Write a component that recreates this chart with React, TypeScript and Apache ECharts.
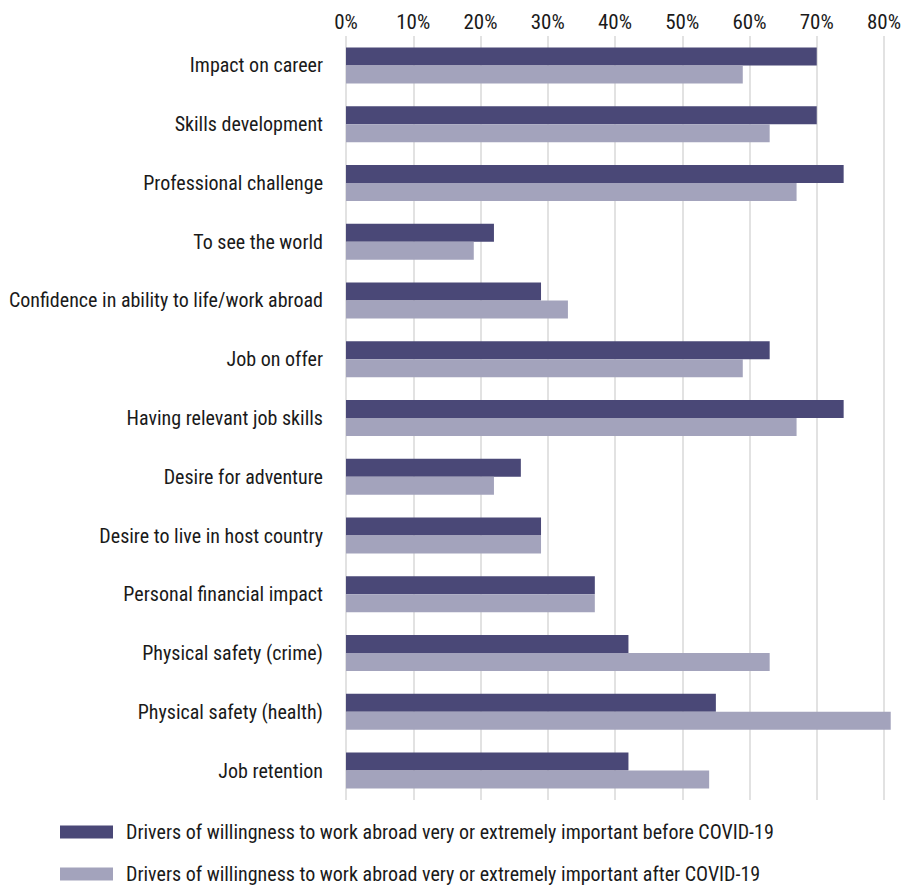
import React, { useEffect, useRef } from "react";
import * as echarts from "echarts";

const categories = [
  "Impact on career",
  "Skills development",
  "Professional challenge",
  "To see the world",
  "Confidence in ability to life/work abroad",
  "Job on offer",
  "Having relevant job skills",
  "Desire for adventure",
  "Desire to live in host country",
  "Personal financial impact",
  "Physical safety (crime)",
  "Physical safety (health)",
  "Job retention",
];

const beforeValues = [70, 70, 74, 22, 29, 63, 74, 26, 29, 37, 42, 55, 42];
const afterValues = [59, 63, 67, 19, 33, 59, 67, 22, 29, 37, 63, 81, 54];

const seriesNames = [
  "Drivers of willingness to work abroad very or extremely important before COVID-19",
  "Drivers of willingness to work abroad very or extremely important after COVID-19",
];

const FONT = '"Roboto Condensed", "Arial Narrow", "Liberation Sans Narrow", sans-serif';
const TEXT_COLOR = "#1a1a1a";

export default function App() {
  const ref = useRef<HTMLDivElement>(null);
  useEffect(() => {
    if (!ref.current) return;
    const chart = echarts.init(ref.current, null, { renderer: "svg" });
    const legendBase = {
      orient: "vertical",
      left: 55,
      itemWidth: 53,
      itemHeight: 13,
      icon: "rect",
      textStyle: { color: TEXT_COLOR, fontSize: 20, fontFamily: FONT, padding: [0, 0, 0, 8] },
    };
    chart.setOption({
      animation: false,
      textStyle: { fontFamily: FONT },
      grid: {
        left: 346,
        right: 22,
        top: 36,
        bottom: 87,
        containLabel: false,
        outerBoundsMode: "none",
      },
      xAxis: {
        type: "value",
        position: "top",
        min: 0,
        max: 80,
        interval: 10,
        axisLine: { show: false },
        axisTick: { show: false },
        splitLine: { show: true, lineStyle: { color: "#d9d9d9", width: 1.5 } },
        axisLabel: {
          formatter: "{value}%",
          color: TEXT_COLOR,
          fontSize: 21,
          fontFamily: FONT,
          margin: 4,
        },
      },
      yAxis: {
        type: "category",
        inverse: true,
        data: categories,
        axisLine: { show: false },
        axisTick: { show: false },
        axisLabel: {
          color: TEXT_COLOR,
          fontSize: 20,
          fontFamily: FONT,
          margin: 23,
        },
      },
      legend: [
        { ...legendBase, top: 817, data: [seriesNames[0]] },
        { ...legendBase, top: 859, data: [seriesNames[1]] },
      ],
      series: [
        {
          name: seriesNames[0],
          type: "bar",
          data: beforeValues,
          barWidth: 18,
          barGap: "0%",
          clip: false,
          itemStyle: { color: "#4a4877" },
        },
        {
          name: seriesNames[1],
          type: "bar",
          data: afterValues,
          barWidth: 18,
          barGap: "0%",
          clip: false,
          itemStyle: { color: "#a3a3bc" },
        },
      ],
    });
    return () => chart.dispose();
  }, []);
  return (
    <div
      ref={ref}
      style={{ position: "absolute", left: 0, top: 0, width: 906, height: 887 }}
    />
  );
}
